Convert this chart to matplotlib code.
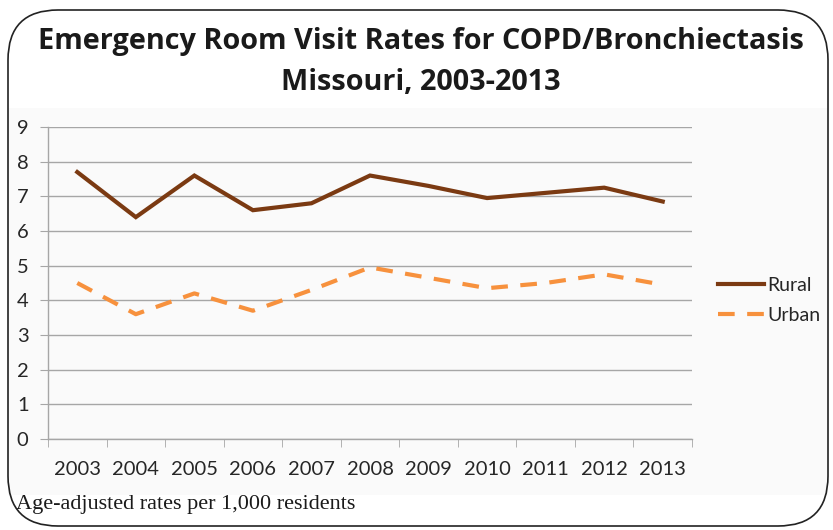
import matplotlib
matplotlib.use("Agg")
import matplotlib.pyplot as plt
from matplotlib.patches import FancyBboxPatch, Rectangle

plt.rcParams.update({
    "font.family": "Lato",
    "axes.linewidth": 1.0,
})

# ── data ──────────────────────────────────────────────────────────────────────
years = ["2003", "2004", "2005", "2006", "2007", "2008",
         "2009", "2010", "2011", "2012", "2013"]
rural = [7.7, 6.4, 7.6, 6.6, 6.8, 7.6, 7.3, 6.95, 7.1, 7.25, 6.85]
urban = [4.5, 3.6, 4.2, 3.7, 4.3, 4.95, 4.65, 4.35, 4.5, 4.75, 4.45]
yticks = list(range(0, 10))

RURAL = "#7B3A12"
URBAN = "#F7913D"
GRID  = "#A6A6A6"
TXT   = "#262626"

W, H = 833, 530
fig = plt.figure(figsize=(W / 100, H / 100), dpi=100)
fig.patch.set_facecolor("white")

# ── frame: rounded border + shaded chart area ────────────────────────────────
fig.patches.append(Rectangle((8 / W, 1 - 495 / H), 820 / W, 387 / H,
                             transform=fig.transFigure, fc="#FAFAFA",
                             ec="none", zorder=-5))
fig.patches.append(FancyBboxPatch((8 / W, 4 / H), 820 / W, 516 / H,
                                  boxstyle="round,pad=0,rounding_size=0.06",
                                  transform=fig.transFigure, fc="none",
                                  ec="#222222", lw=1.2, zorder=5,
                                  mutation_aspect=W / H))

# ── axes ──────────────────────────────────────────────────────────────────────
ax = fig.add_axes([48 / W, 1 - 439 / H, 644 / W, 312 / H])
ax.set_facecolor("none")
x = list(range(len(years)))
ax.plot(x, rural, color=RURAL, lw=3, label="Rural", solid_joinstyle="miter")
ax.plot(x, urban, color=URBAN, lw=3, ls=(0, (4, 3)), label="Urban")

ax.set_xlim(-0.5, len(years) - 0.5)
ax.set_ylim(0, 9)
ax.set_yticks(yticks)
ax.set_xticks(x)
ax.set_xticklabels(years)
ax.set_xticks([i - 0.5 for i in range(len(years) + 1)], minor=True)
ax.tick_params(axis="x", which="major", length=0, pad=16,
               labelsize=14.5, labelcolor=TXT)
ax.tick_params(axis="x", which="minor", length=6, color=GRID, direction="out")
ax.tick_params(axis="y", length=6, color=GRID, labelsize=14.5,
               labelcolor=TXT, pad=8)
ax.grid(axis="y", color=GRID, lw=1.0)
ax.set_axisbelow(True)
for s in ["top", "right"]:
    ax.spines[s].set_visible(False)
for s in ["left", "bottom"]:
    ax.spines[s].set_color(GRID)

leg = ax.legend(loc="center left", bbox_to_anchor=(1.04, 0.444), frameon=False,
                fontsize=14, handlelength=2.4, handletextpad=0.15,
                labelspacing=0.65, borderpad=0, borderaxespad=0)
for t in leg.get_texts():
    t.set_color(TXT)

# ── titles ────────────────────────────────────────────────────────────────────
fig.text(421 / W, 1 - 42 / H, "Emergency Room Visit Rates for COPD/Bronchiectasis",
         ha="center", va="center", fontsize=20.8, fontweight="bold",
         family="Open Sans", color="#1a1a1a")
fig.text(421 / W, 1 - 82 / H, "Missouri, 2003-2013",
         ha="center", va="center", fontsize=20.8, fontweight="bold",
         family="Open Sans", color="#1a1a1a")
fig.text(16 / W, 1 - 505 / H, "Age-adjusted rates per 1,000 residents",
         ha="left", va="center", fontsize=16, family="Liberation Serif",
         color="#1a1a1a")

fig.savefig("out.png", dpi=100)
